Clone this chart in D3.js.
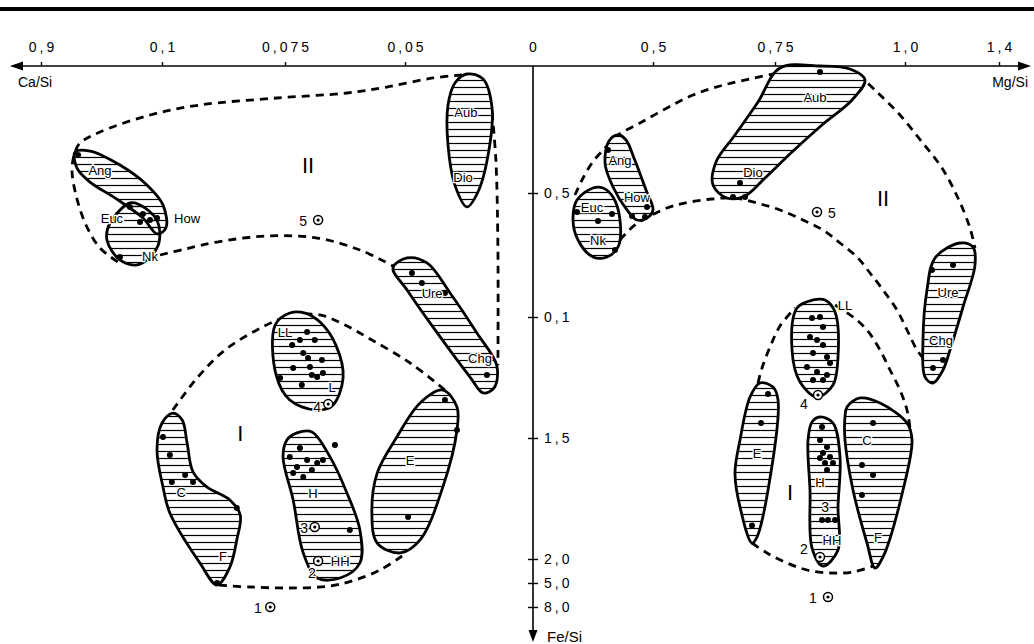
<!DOCTYPE html>
<html>
<head>
<meta charset="utf-8">
<script src="https://cdn.jsdelivr.net/npm/d3@7"></script>
<style>
  html, body { margin: 0; padding: 0; background: #fff; }
  svg { display: block; font-family: "Liberation Sans", Arial, sans-serif; }
</style>
</head>
<body>
<svg id="chart" width="1034" height="644"></svg>
<script>
// ---------- axis ticks ----------
const caTicks = [0.9, 0.1, 0.075, 0.05];
const caTickLabels = ["0,9", "0,1", "0,075", "0,05"];
const mgTicks = [0.5, 0.75, 1.0, 1.4];
const mgTickLabels = ["0,5", "0,75", "1,0", "1,4"];
const feTicks = [0.5, 1.0, 1.5, 2.0, 5.0, 8.0];
const feTickLabels = ["0,5", "0,1", "1,5", "2,0", "5,0", "8,0"];

// ---------- group fields, left half: [Ca/Si, Fe/Si] ----------
const angL = [[0.675,0.339],[0.576,0.335],[0.378,0.390],[0.193,0.472],[0.0998,0.548],[0.0992,0.641],[0.133,0.665],[0.226,0.601],[0.411,0.520],[0.576,0.457],[0.662,0.402]];
const nkL  = [[0.312,0.540],[0.444,0.621],[0.464,0.690],[0.378,0.770],[0.265,0.790],[0.179,0.758],[0.120,0.700],[0.133,0.610],[0.245,0.548]];
const aubL = [[0.0258,0.0315],[0.0195,0.0512],[0.0160,0.165],[0.0172,0.331],[0.0215,0.496],[0.0258,0.556],[0.0305,0.469],[0.0332,0.311],[0.0332,0.154],[0.0305,0.0669]];
const ureL = [[0.0525,0.802],[0.0492,0.762],[0.0414,0.782],[0.0324,0.903],[0.0219,1.066],[0.0141,1.202],[0.0152,1.293],[0.0195,1.314],[0.0246,1.248],[0.0391,1.041],[0.0492,0.891]];
const llL  = [[0.0740,0.984],[0.0770,1.033],[0.0768,1.240],[0.0740,1.343],[0.0688,1.384],[0.0652,1.368],[0.0629,1.252],[0.0644,1.116],[0.0677,1.021],[0.0708,0.984]];
const hL   = [[0.0725,1.479],[0.0694,1.475],[0.0656,1.579],[0.0621,1.727],[0.0594,1.880],[0.0594,2.5],[0.0635,4.375],[0.0683,4.375],[0.0712,1.975],[0.0733,1.756],[0.0754,1.579],[0.0746,1.508]];
const cfL  = [[0.0978,1.397],[0.0959,1.426],[0.0949,1.521],[0.0937,1.640],[0.0909,1.702],[0.0862,1.756],[0.0841,1.818],[0.0848,1.921],[0.0862,3.0],[0.0888,5.25],[0.0923,2.5],[0.0984,1.810],[0.0998,1.702],[0.133,1.550],[0.1,1.438]];
const eL   = [[0.0352,1.302],[0.0297,1.372],[0.0297,1.467],[0.0352,1.702],[0.0441,1.921],[0.0510,1.975],[0.0558,1.934],[0.0569,1.810],[0.0558,1.645],[0.0517,1.496],[0.0441,1.355]];

// ---------- group fields, right half: [Mg/Si, Fe/Si] ----------
const aubR = [[0.7596,0.0079],[0.8365,0],[0.8942,0.0118],[0.9231,0.0551],[0.8981,0.1339],[0.8404,0.2323],[0.7827,0.3386],[0.7295,0.4409],[0.6885,0.5121],[0.6516,0.5202],[0.6229,0.4685],[0.6291,0.3780],[0.6680,0.2717],[0.7152,0.1417]];
const angR = [[0.3542,0.2717],[0.3167,0.2953],[0.3,0.3819],[0.3333,0.4764],[0.3917,0.5685],[0.4333,0.6089],[0.475,0.6008],[0.5,0.5685],[0.4708,0.4882],[0.4208,0.3622],[0.3875,0.2913]];
const nkR  = [[0.25,0.4803],[0.1833,0.5282],[0.1667,0.6089],[0.1875,0.6895],[0.25,0.7581],[0.3083,0.7581],[0.3542,0.7177],[0.3625,0.6089],[0.3333,0.5161],[0.2917,0.4803]];
const ureR = [[1.2893,0.7177],[1.2340,0.7016],[1.1277,0.7621],[1.0936,0.8911],[1.0766,1.0950],[1.0851,1.2479],[1.1191,1.2727],[1.1617,1.2190],[1.1915,1.1364],[1.2468,0.9597],[1.2979,0.7903]];
const llR  = [[0.8231,0.9314],[0.7923,0.9637],[0.7827,1.1364],[0.7981,1.2686],[0.8308,1.3306],[0.8615,1.2810],[0.8712,1.1653],[0.8654,0.9798],[0.8462,0.9314]];
const eR   = [[0.7193,1.2727],[0.7459,1.2893],[0.7558,1.3430],[0.7357,1.7149],[0.7131,1.9091],[0.7029,1.9339],[0.6783,1.7851],[0.6680,1.6446],[0.6783,1.5083],[0.6988,1.3306]];
const hR   = [[0.8365,1.4132],[0.8615,1.4380],[0.875,1.5785],[0.8712,1.7851],[0.8712,1.9628],[0.8423,2.875],[0.8212,1.9545],[0.8173,1.7149],[0.8135,1.5083],[0.8212,1.4339]];
const cfR  = [[0.8885,1.3719],[0.9135,1.3347],[0.9519,1.3554],[1.0085,1.4380],[1.0298,1.5083],[0.9962,1.7149],[0.9577,1.9917],[0.9423,3.125],[0.9269,1.9339],[0.9,1.7149],[0.8846,1.5083],[0.8846,1.4132]];

// ---------- individual analyses ----------
const dotsL = [[0.312,0.556],[0.226,0.585],[0.179,0.609],[0.245,0.617],[0.133,0.601],[0.378,0.758],[0.655,0.350],
  [0.0473,0.823],[0.0434,0.863],[0.0344,0.903],[0.0180,1.240],
  [0.0704,1.062],[0.0735,1.116],[0.0712,1.149],[0.0698,1.207],[0.0673,1.178],[0.0733,1.211],[0.0760,1.252],[0.0715,1.281],[0.0683,1.248],[0.0671,1.231],[0.0702,1.169],[0.0694,1.240],[0.0719,1.095],[0.0688,1.095],
  [0.0719,1.541],[0.0740,1.579],[0.0704,1.591],[0.0725,1.620],[0.0683,1.603],[0.0671,1.591],[0.0733,1.645],[0.0694,1.632],[0.0712,1.661],[0.0615,1.880],[0.0646,1.529],
  [0.0998,1.496],[0.0984,1.570],[0.0953,1.653],[0.0980,1.682],[0.0937,1.682],[0.0848,1.789],[0.0888,5.0],
  [0.0344,1.343],[0.0297,1.467],[0.0488,1.826]];
const dotsR = [[0.6783,0.4606],[0.6639,0.5161],[0.6885,0.5161],[0.8365,0.0236],
  [0.3125,0.3307],[0.4125,0.5927],[0.4667,0.5968],[0.475,0.5564],
  [0.1833,0.5766],[0.2708,0.6129],[0.3292,0.5847],[0.3417,0.7298],
  [1.2043,0.7903],[1.1149,0.8105],[1.1191,1.2107],[1.1617,1.1777],
  [0.8212,1.0041],[0.8365,1.0],[0.8423,1.0413],[0.8173,1.0826],[0.8308,1.0950],[0.8423,1.1157],[0.8231,1.1488],[0.8500,1.1653],[0.8558,1.1901],[0.8115,1.2066],[0.8308,1.2273],[0.8500,1.2397],[0.8231,1.2603],[0.8423,1.2603],
  [0.7357,1.3182],[0.7213,1.4380],[0.7029,1.8616],
  [0.8404,1.4545],[0.8365,1.5083],[0.85,1.5372],[0.8423,1.5620],[0.8558,1.5785],[0.8462,1.6033],[0.8365,1.5826],[0.85,1.6322],[0.8615,1.6033],[0.8519,1.8388],[0.8654,1.8388],[0.8404,1.8388],
  [0.9385,1.4380],[0.9173,1.6116],[0.9385,1.6529],[0.9173,1.7355]];

// numbered reference compositions (ringed points)
const ringsL = [[0.0681,0.609],[0.0660,1.360],[0.0688,1.868],[0.0681,2.25],[0.0780,8.0]];
const ringsR = [[0.8308,0.5766],[0.8327,1.3223],[0.8365,1.9917],[0.8519,6.75]];

// ---------- field boundaries (dashed) ----------
const fieldIIL_outer = [[0.0277,0.0354],[0.0391,0.0472],[0.0538,0.0827],[0.0621,0.1063],[0.0766,0.1260],[0.0923,0.1535],[0.1793,0.1929],[0.5099,0.2598],[0.6422,0.3031],[0.6752,0.3386],[0.6951,0.4094],[0.6686,0.5081],[0.6025,0.6290],[0.5099,0.7218],[0.3909,0.7782]];
const fieldIIL_lower = [[0.1132,0.75],[0.0953,0.7258],[0.0888,0.6976],[0.0787,0.6734],[0.0683,0.6815],[0.0594,0.7298],[0.0525,0.7944]];
const fieldIIL_right = [[0.0160,0.1811],[0.0145,0.3701],[0.0137,0.7298],[0.0137,1.1983]];
const fieldIL_upper = [[0.0978,1.3843],[0.0927,1.2479],[0.0872,1.1364],[0.0807,1.0537],[0.0740,0.9960],[0.0677,0.9919],[0.0625,1.0331],[0.0569,1.0950],[0.0480,1.1901],[0.0344,1.3017]];
const fieldIL_lower = [[0.0506,1.9876],[0.0552,3.375],[0.0604,4.625],[0.0656,5.375],[0.0740,5.625],[0.0821,5.5],[0.0888,5.25]];

const fieldIIR_upper = [[0.175,0.5081],[0.2042,0.4488],[0.2458,0.3819],[0.3,0.3228],[0.3542,0.2717],[0.4458,0.2244],[0.5287,0.1654],[0.5820,0.1142],[0.6373,0.0787],[0.6988,0.0512],[0.7654,0.0236],[0.8077,0.0079]];
const fieldIIR_right = [[0.9096,0.0315],[0.9462,0.1024],[0.9904,0.1929],[1.0723,0.2992],[1.1574,0.4016],[1.2255,0.5202],[1.2766,0.6411],[1.2979,0.7218]];
const fieldIIR_lower = [[0.3625,0.6895],[0.425,0.6290],[0.5287,0.5605],[0.5758,0.5363],[0.6209,0.5242],[0.6680,0.5202],[0.7131,0.5403],[0.7596,0.5685],[0.8038,0.6089],[0.8423,0.6492],[0.875,0.7016],[0.9077,0.7581],[0.9327,0.8226],[0.9577,0.8911],[0.9846,0.9718],[1.0085,1.0537],[1.0511,1.1364],[1.0766,1.1694]];
const fieldIR_left = [[0.7152,1.2727],[0.7234,1.2107],[0.7398,1.1240],[0.7596,1.0372],[0.7885,0.9637]];
const fieldIR_right = [[0.8654,0.9516],[0.9,1.0],[0.9269,1.0537],[0.9519,1.1364],[0.9712,1.2190],[0.9904,1.3017],[1.0085,1.3843],[1.0213,1.4587]];
const fieldIR_lower = [[0.7029,1.9339],[0.7336,1.9752],[0.7731,2.5],[0.8115,3.375],[0.8558,3.75],[0.9,3.625],[0.9385,2.875]];

// ---------- labels: [text, x, y] ----------
const labelsL = [["Ang",0.510,0.409],["Euc",0.431,0.601],["How",0.0949,0.601],["Nk",0.179,0.754],
  ["Aub",0.0262,0.181],["Dio",0.0273,0.437],["Ure",0.0394,0.903],["Chg",0.0207,1.169],
  ["LL",0.075,1.062],["L",0.0652,1.289],["H",0.0692,1.727],["HH",0.0635,2.25],
  ["C",0.0961,1.723],["F",0.0876,1.988],["E",0.0480,1.591]];
const labelsR = [["Aub",0.8269,0.122],["Dio",0.7049,0.417],["Ang",0.3625,0.370],["How",0.4333,0.516],
  ["Euc",0.2458,0.5565],["Nk",0.2708,0.6895],["Ure",1.183,0.899],["Chg",1.1532,1.095],
  ["LL",0.8846,0.9516],["E",0.7131,1.562],["H",0.8365,1.6818],["HH",0.8596,1.9215],
  ["C",0.9269,1.5083],["F",0.9481,1.909]];
const numLabelsL = [["5",0.0712,0.613],["4",0.0683,1.372],["3",0.0710,1.872],["2",0.0694,3.75],["1",0.0805,8.125]];
const numLabelsR = [["5",0.8596,0.581],["4",0.8058,1.360],["3",0.8462,1.7851],["2",0.8058,1.9587],["1",0.8231,6.875]];
const fieldNamesL = [["II",0.0702,0.390],["I",0.0841,1.479]];
const fieldNamesR = [["II",0.9577,0.520],["I",0.7788,1.723]];

// ---------- scales (piecewise, as on the printed axes) ----------
const xCa = d3.scaleLinear().domain([0, 0.05, 0.075, 0.1, 0.9]).range([533, 405, 285, 162, 41]);
const xMg = d3.scaleLinear().domain([0, 0.5, 0.75, 1.0, 1.4]).range([533, 653, 775, 905, 999]);
const yFe = d3.scaleLinear().domain([0, 0.5, 1.0, 1.5, 2.0, 5.0, 8.0]).range([66, 193, 317, 438, 559, 583, 607]);

const svg = d3.select("#chart");

// hatch fill for the group fields
const defs = svg.append("defs");
const pat = defs.append("pattern").attr("id", "hatch")
  .attr("patternUnits", "userSpaceOnUse").attr("width", 10).attr("height", 7);
pat.append("line").attr("x1", 0).attr("x2", 10).attr("y1", 3.5).attr("y2", 3.5)
  .attr("stroke", "#000").attr("stroke-width", 1.2);

// top rule
svg.append("rect").attr("x", 0).attr("y", 7).attr("width", 1034).attr("height", 4).attr("fill", "#000");

// ---------- axes ----------
const y0 = yFe(0);
const axisG = svg.append("g");
axisG.append("line").attr("x1", 12).attr("x2", 1024).attr("y1", y0).attr("y2", y0)
  .attr("stroke", "#000").attr("stroke-width", 1.6);
axisG.append("path").attr("d", `M10,${y0} L23,${y0 - 4.5} L23,${y0 + 4.5} Z`).attr("fill", "#000");
axisG.append("path").attr("d", `M1031,${y0} L1018,${y0 - 4.5} L1018,${y0 + 4.5} Z`).attr("fill", "#000");

const x0 = xCa(0);
axisG.append("line").attr("x1", x0).attr("x2", x0).attr("y1", y0).attr("y2", 632)
  .attr("stroke", "#000").attr("stroke-width", 1.6);
axisG.append("path").attr("d", `M${x0},642 L${x0 - 4.5},630 L${x0 + 4.5},630 Z`).attr("fill", "#000");

function styleAxis(g) {
  g.select(".domain").remove();
  g.selectAll(".tick line").attr("stroke", "#000").attr("stroke-width", 1.4);
  g.selectAll(".tick text").attr("fill", "#000").style("font-size", "14px")
    .style("letter-spacing", "3px")
    .style("font-family", '"Liberation Sans", Arial, sans-serif');
}

const caAxis = svg.append("g").attr("transform", `translate(0,${y0})`)
  .call(d3.axisTop(xCa).tickValues(caTicks).tickFormat((d, i) => caTickLabels[i]).tickSize(4).tickPadding(10))
  .call(styleAxis);
const mgAxis = svg.append("g").attr("transform", `translate(0,${y0})`)
  .call(d3.axisTop(xMg).tickValues(mgTicks).tickFormat((d, i) => mgTickLabels[i]).tickSize(4).tickPadding(10))
  .call(styleAxis);
// letter spacing adds a trailing gap; re-centre the labels on their ticks
caAxis.selectAll(".tick text").attr("dx", "1.5px");
mgAxis.selectAll(".tick text").attr("dx", "1.5px");

const feAxis = svg.append("g").attr("transform", `translate(${x0},0)`)
  .call(d3.axisRight(yFe).tickValues(feTicks).tickFormat((d, i) => feTickLabels[i]).tickSize(5).tickPadding(6))
  .call(styleAxis);
feAxis.selectAll(".tick line").attr("x1", -5);

svg.append("text").attr("x", x0).attr("y", y0 - 14).attr("text-anchor", "middle")
  .style("font-size", "14px").text("0");
svg.append("text").attr("x", 18).attr("y", 87).style("font-size", "14px").text("Ca/Si");
svg.append("text").attr("x", 1028).attr("y", 87).attr("text-anchor", "end").style("font-size", "14px").text("Mg/Si");
svg.append("text").attr("x", 547).attr("y", 642).style("font-size", "15px").text("Fe/Si");

// ---------- drawing helpers ----------
const lineL = d3.line().x(d => xCa(d[0])).y(d => yFe(d[1]));
const lineR = d3.line().x(d => xMg(d[0])).y(d => yFe(d[1]));

function dashed(data, gen) {
  svg.append("path").attr("d", gen.curve(d3.curveCatmullRom.alpha(0.5))(data))
    .attr("fill", "none").attr("stroke", "#000").attr("stroke-width", 2.8)
    .attr("stroke-dasharray", "8,6");
}
[fieldIIL_outer, fieldIIL_lower, fieldIIL_right, fieldIL_upper, fieldIL_lower].forEach(d => dashed(d, lineL));
[fieldIIR_upper, fieldIIR_right, fieldIIR_lower, fieldIR_left, fieldIR_right, fieldIR_lower].forEach(d => dashed(d, lineR));

const blobsL = [angL, nkL, aubL, ureL, llL, hL, cfL, eL];
const blobsR = [aubR, angR, nkR, ureR, llR, eR, hR, cfR];
const closedL = d3.line().x(d => xCa(d[0])).y(d => yFe(d[1])).curve(d3.curveCatmullRomClosed.alpha(0.5));
const closedR = d3.line().x(d => xMg(d[0])).y(d => yFe(d[1])).curve(d3.curveCatmullRomClosed.alpha(0.5));

// white ground first so the boundaries stop at the fields
const fieldG = svg.append("g");
blobsL.forEach(b => fieldG.append("path").attr("d", closedL(b)).attr("fill", "#fff"));
blobsR.forEach(b => fieldG.append("path").attr("d", closedR(b)).attr("fill", "#fff"));
blobsL.forEach(b => fieldG.append("path").attr("d", closedL(b)).attr("fill", "url(#hatch)")
  .attr("stroke", "#000").attr("stroke-width", 2.8).attr("stroke-linejoin", "round"));
blobsR.forEach(b => fieldG.append("path").attr("d", closedR(b)).attr("fill", "url(#hatch)")
  .attr("stroke", "#000").attr("stroke-width", 2.8).attr("stroke-linejoin", "round"));

// analyses
svg.append("g").selectAll("circle").data(dotsL).join("circle")
  .attr("cx", d => xCa(d[0])).attr("cy", d => yFe(d[1])).attr("r", 3).attr("fill", "#000");
svg.append("g").selectAll("circle").data(dotsR).join("circle")
  .attr("cx", d => xMg(d[0])).attr("cy", d => yFe(d[1])).attr("r", 3).attr("fill", "#000");

// ringed reference points
function rings(data, sx) {
  const g = svg.append("g");
  g.selectAll("circle.o").data(data).join("circle").attr("class", "o")
    .attr("cx", d => sx(d[0])).attr("cy", d => yFe(d[1])).attr("r", 4.5)
    .attr("fill", "#fff").attr("stroke", "#000").attr("stroke-width", 1.5);
  g.selectAll("circle.c").data(data).join("circle").attr("class", "c")
    .attr("cx", d => sx(d[0])).attr("cy", d => yFe(d[1])).attr("r", 1.6).attr("fill", "#000");
}
rings(ringsL, xCa);
rings(ringsR, xMg);

// labels
function labels(data, sx, size) {
  svg.append("g").selectAll("text").data(data).join("text")
    .attr("x", d => sx(d[1])).attr("y", d => yFe(d[2])).attr("dy", "0.36em")
    .attr("text-anchor", "middle").style("font-size", size + "px")
    .attr("stroke", "#fff").attr("stroke-width", 2.5).attr("paint-order", "stroke")
    .attr("fill", "#000").text(d => d[0]);
}
labels(labelsL, xCa, 13);
labels(labelsR, xMg, 13);
labels(numLabelsL, xCa, 14);
labels(numLabelsR, xMg, 14);
labels(fieldNamesL, xCa, 22);
labels(fieldNamesR, xMg, 22);
</script>
</body>
</html>
